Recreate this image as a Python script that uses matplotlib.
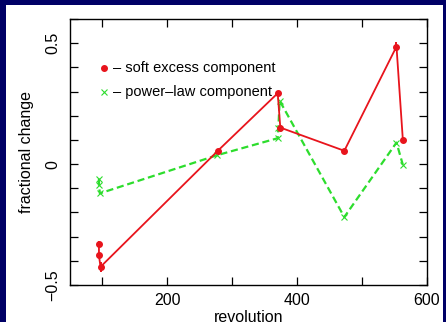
import numpy as np
import matplotlib
matplotlib.use("Agg")
import matplotlib.pyplot as plt
from matplotlib.patches import Rectangle
from matplotlib.ticker import MultipleLocator, FixedLocator

# soft excess component (red)
soft_rev = [94.6, 94.6, 97.0, 277.7, 370.0, 374.0, 472.6, 553.0, 562.8]
soft_val = [-0.330, -0.378, -0.425, 0.055, 0.293, 0.151, 0.055, 0.486, 0.100]
soft_err = [0.014, 0.012, 0.020, 0.008, 0.010, 0.008, 0.006, 0.018, 0.008]

# power-law component (green)
pl_rev = [94.6, 94.6, 96.0, 277.0, 370.0, 371.0, 373.0, 472.6, 553.0, 562.8]
pl_val = [-0.060, -0.085, -0.121, 0.037, 0.107, 0.149, 0.262, -0.219, 0.089, -0.003]

navy = "#000066"
red = "#e8141c"
green = "#2ddd2d"

plt.rcParams['font.family'] = ['Liberation Sans', 'DejaVu Sans']

fig = plt.figure(figsize=(4.46, 3.22), dpi=100, facecolor=navy)
fig.add_artist(Rectangle((6 / 446, 0), 437 / 446, 317 / 322,
                         transform=fig.transFigure, facecolor="white",
                         edgecolor="none", zorder=-10))

ax = fig.add_axes([70 / 446, 37 / 322, 357 / 446, 266 / 322])
ax.set_zorder(1)
ax.set_facecolor("white")

ax.errorbar(soft_rev, soft_val, yerr=soft_err, color=red, lw=1.3,
            marker="o", ms=4, elinewidth=1.4, capsize=0, zorder=3)
ax.plot(pl_rev, pl_val, color=green, lw=1.6, ls=(0, (3.2, 1.7)),
        marker="x", ms=4, mew=0.8, zorder=2)

ax.set_xlim(50, 600)
ax.set_ylim(-0.5, 0.6)
ax.xaxis.set_major_locator(FixedLocator([200, 400, 600]))
ax.xaxis.set_minor_locator(FixedLocator([100, 300, 500]))
ax.yaxis.set_major_locator(FixedLocator([-0.5, 0, 0.5]))
ax.yaxis.set_minor_locator(MultipleLocator(0.1))
ax.set_yticklabels(["\u22120.5", "0", "0.5"], rotation=90, va="center")

ax.tick_params(which="both", direction="in", top=True, right=True,
               length=6, width=0.9, labelsize=11.5)
ax.tick_params(axis="x", pad=6)
ax.tick_params(axis="y", pad=7)
for s in ax.spines.values():
    s.set_linewidth(1.0)

ax.set_xlabel("revolution", fontsize=11.5, labelpad=1)
ax.set_ylabel("fractional change", fontsize=11.5, labelpad=8)

# legend drawn as text, like the original
ax.plot([0.094], [0.817], transform=ax.transAxes, marker="o",
        color=red, ms=4, clip_on=False)
ax.text(0.12, 0.817, "\u2013 soft excess component", transform=ax.transAxes,
        fontsize=10.5, va="center")
ax.plot([0.094], [0.726], transform=ax.transAxes, marker="x",
        color=green, ms=4, mew=0.8, clip_on=False)
ax.text(0.12, 0.726, "\u2013 power\u2013law component", transform=ax.transAxes,
        fontsize=10.5, va="center")

fig.savefig("out.png", dpi=100, facecolor=navy)
